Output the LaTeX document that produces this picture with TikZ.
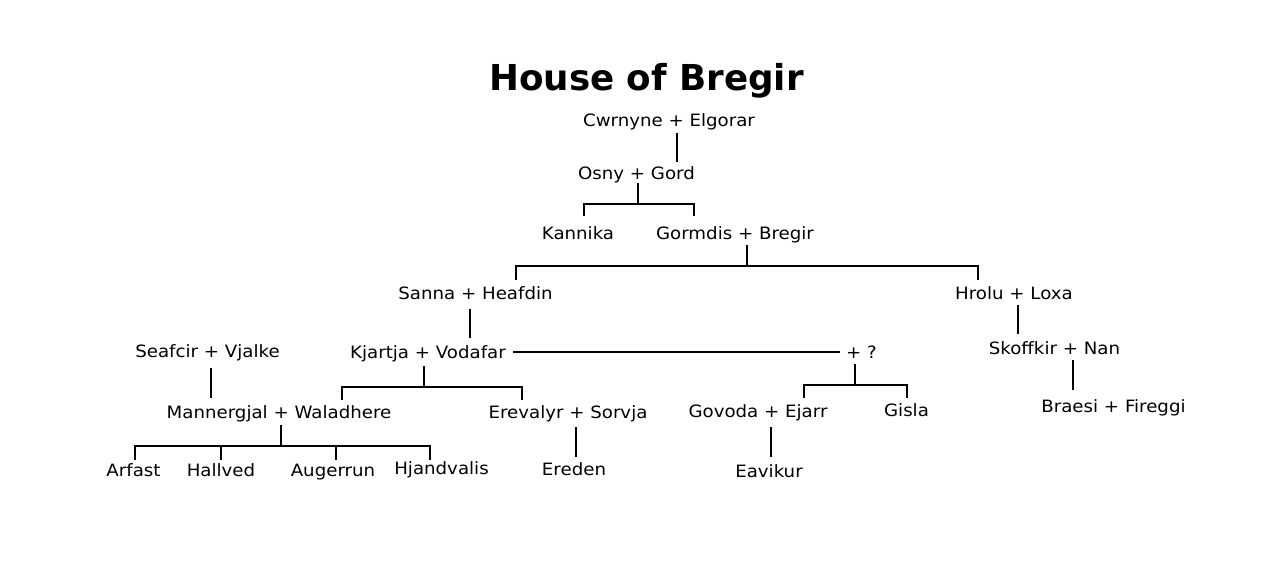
\documentclass[tikz,border=0pt]{standalone}
\usepackage{fontspec}
\setmainfont[FakeStretch=1.07]{DejaVu Sans}
\newfontfamily\titlefont{DejaVu Sans}
\begin{document}
\begin{tikzpicture}[x=1pt,y=-1pt,
  person/.style={inner sep=0pt,anchor=base,font=\fontsize{17}{20}\selectfont},
  titlestyle/.style={inner sep=0pt,anchor=base,font=\titlefont\fontsize{35.7}{40}\selectfont\bfseries},
  link/.style={line width=2pt}]
\useasboundingbox (0,0) rectangle (1280,573);
\fill[white] (0,0) rectangle (1280,573);
\node[titlestyle] (title) at (646.5,90) {House of Bregir};
\node[person] (cw) at (669,126) {Cwrnyne + Elgorar};
\node[person] (osny) at (636.5,179) {Osny + Gord};
\node[person] (kan) at (578,239) {Kannika};
\node[person] (gor) at (735,239) {Gormdis + Bregir};
\node[person] (san) at (475.5,299) {Sanna + Heafdin};
\node[person] (hro) at (1014,299) {Hrolu + Loxa};
\node[person] (sea) at (207.5,357) {Seafcir + Vjalke};
\node[person] (kja) at (428,358) {Kjartja + Vodafar};
\node[person] (pq) at (861.5,358) {+ ?};
\node[person] (sko) at (1054.5,354) {Skoffkir + Nan};
\node[person] (bra) at (1113.5,412) {Braesi + Fireggi};
\node[person] (man) at (279,418.5) {Mannergjal + Waladhere};
\node[person] (ere) at (568,418) {Erevalyr + Sorvja};
\node[person] (gov) at (758,417) {Govoda + Ejarr};
\node[person] (gis) at (906.5,416) {Gisla};
\node[person] (arf) at (133.5,476.5) {Arfast};
\node[person] (hal) at (221,476.5) {Hallved};
\node[person] (aug) at (333,476) {Augerrun};
\node[person] (hja) at (441.5,474) {Hjandvalis};
\node[person] (erd) at (574,475) {Ereden};
\node[person] (eav) at (769,477) {Eavikur};
% junction coordinates
\coordinate (cwA) at (677,133); \coordinate (cwB) at (677,162);
\coordinate (osA) at (638,183); \coordinate (osB) at (638,204);
\coordinate (kanT) at (584,216); \coordinate (gorT) at (694,216);
\coordinate (goA) at (747,245); \coordinate (goB) at (747,266);
\coordinate (sanT) at (516,280); \coordinate (hroT) at (978,280);
\coordinate (saA) at (470,309); \coordinate (saB) at (470,338);
\coordinate (hrA) at (1018,305); \coordinate (hrB) at (1018,334);
\coordinate (skA) at (1073,360); \coordinate (skB) at (1073,390);
\coordinate (seA) at (211,368); \coordinate (seB) at (211,398);
\coordinate (kjA) at (424,366); \coordinate (kjB) at (424,387);
\coordinate (manT) at (342,400); \coordinate (ereT) at (522,400);
\coordinate (kjR) at (513,352); \coordinate (pqL) at (840,352);
\coordinate (pqA) at (855,364); \coordinate (pqB) at (855,385);
\coordinate (govT) at (804,398); \coordinate (gisT) at (907,398);
\coordinate (maA) at (281,425); \coordinate (maB) at (281,446);
\coordinate (arfT) at (135,460); \coordinate (halT) at (221,460);
\coordinate (augT) at (336,460); \coordinate (hjaT) at (430,460);
\coordinate (erA) at (576,427); \coordinate (erB) at (576,457);
\coordinate (gvA) at (771,427); \coordinate (gvB) at (771,457);
% connectors
\draw[link] (cwA) -- (cwB);
\draw[link] (osA) -- (osB);
\draw[link] (kanT) |- (osB) -| (gorT);
\draw[link] (goA) -- (goB);
\draw[link] (sanT) |- (goB) -| (hroT);
\draw[link] (saA) -- (saB);
\draw[link] (hrA) -- (hrB);
\draw[link] (skA) -- (skB);
\draw[link] (seA) -- (seB);
\draw[link] (kjA) -- (kjB);
\draw[link] (manT) |- (kjB) -| (ereT);
\draw[link] (kjR) -- (pqL);
\draw[link] (pqA) -- (pqB);
\draw[link] (govT) |- (pqB) -| (gisT);
\draw[link] (maA) -- (maB);
\draw[link] (arfT) |- (maB) -| (hjaT);
\draw[link] (halT) -- (halT |- maB);
\draw[link] (augT) -- (augT |- maB);
\draw[link] (erA) -- (erB);
\draw[link] (gvA) -- (gvB);
\end{tikzpicture}
\end{document}
